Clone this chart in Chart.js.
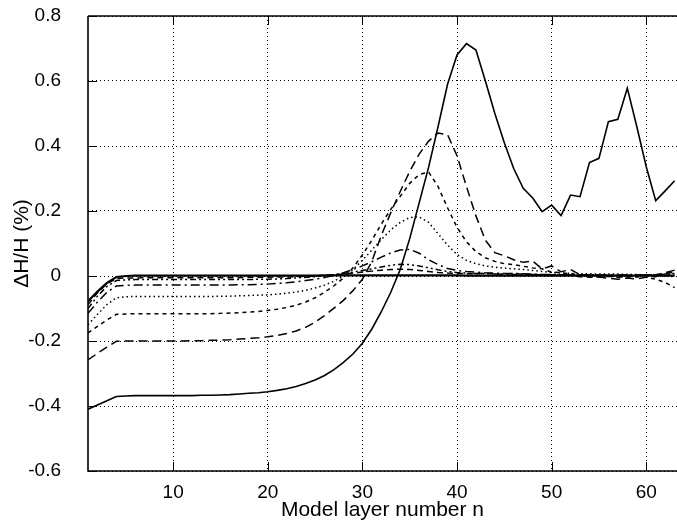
<!DOCTYPE html>
<html><head><meta charset="utf-8">
<script src="https://cdn.jsdelivr.net/npm/chart.js@4.4.1/dist/chart.umd.min.js"></script>
<style>html,body{margin:0;padding:0;background:#fff;overflow:hidden}canvas{display:block}</style>
</head><body>
<canvas id="c" width="677" height="528"></canvas>
<script>
const layers = [1,2,3,4,5,6,7,8,9,10,11,12,13,14,15,16,17,18,19,20,21,22,23,24,25,26,27,28,29,30,31,32,33,34,35,36,37,38,39,40,41,42,43,44,45,46,47,48,49,50,51,52,53,54,55,56,57,58,59,60,61,62,63];

const solidMain = [-0.410,-0.397,-0.384,-0.371,-0.369,-0.368,-0.368,-0.368,-0.368,-0.368,
 -0.368,-0.368,-0.367,-0.367,-0.366,-0.365,-0.363,-0.361,-0.359,-0.356,
 -0.352,-0.347,-0.340,-0.331,-0.320,-0.306,-0.288,-0.266,-0.240,-0.207,
 -0.163,-0.110,-0.050,0.020,0.115,0.225,0.335,0.460,0.590,0.680,
 0.715,0.695,0.600,0.500,0.410,0.330,0.270,0.240,0.198,0.218,
 0.186,0.249,0.244,0.349,0.362,0.475,0.482,0.578,0.460,0.336,
 0.232,0.262,0.293];

const longDash = [-0.258,-0.238,-0.219,-0.201,-0.200,-0.200,-0.200,-0.200,-0.200,-0.200,
 -0.200,-0.199,-0.199,-0.198,-0.197,-0.196,-0.194,-0.192,-0.190,-0.187,
 -0.183,-0.177,-0.169,-0.158,-0.142,-0.122,-0.099,-0.075,-0.045,-0.010,
 0.045,0.125,0.195,0.260,0.322,0.375,0.415,0.440,0.435,0.370,
 0.275,0.185,0.110,0.072,0.062,0.050,0.042,0.046,0.022,0.031,
 0.013,0.020,0.004,0.000,-0.003,-0.007,-0.010,-0.006,-0.009,-0.004,
 -0.002,0.010,0.018];

const shortDash = [-0.175,-0.155,-0.135,-0.118,-0.117,-0.116,-0.116,-0.116,-0.116,-0.116,
 -0.116,-0.116,-0.116,-0.116,-0.115,-0.114,-0.113,-0.111,-0.109,-0.106,
 -0.102,-0.097,-0.090,-0.080,-0.067,-0.050,-0.030,-0.006,0.025,0.065,
 0.110,0.160,0.205,0.245,0.285,0.312,0.320,0.275,0.210,0.150,
 0.105,0.075,0.056,0.045,0.038,0.035,0.030,0.025,0.022,0.012,
 0.010,0.006,0.004,0.002,0.002,0.001,0.000,-0.002,-0.003,-0.004,
 -0.010,-0.020,-0.036];

const dotted = [-0.150,-0.118,-0.088,-0.067,-0.064,-0.063,-0.063,-0.063,-0.063,-0.063,
 -0.063,-0.063,-0.063,-0.063,-0.062,-0.062,-0.061,-0.060,-0.059,-0.058,
 -0.056,-0.053,-0.049,-0.044,-0.037,-0.028,-0.016,0.000,0.020,0.048,
 0.080,0.112,0.142,0.165,0.180,0.182,0.165,0.130,0.095,0.066,
 0.048,0.038,0.031,0.027,0.024,0.022,0.020,0.017,0.014,0.011,
 0.009,0.008,0.007,0.007,0.006,0.006,0.006,0.005,0.005,0.003,
 0.002,0.000,-0.002];

const dashDot = [-0.115,-0.080,-0.050,-0.031,-0.029,-0.028,-0.028,-0.028,-0.028,-0.028,
 -0.028,-0.028,-0.028,-0.028,-0.028,-0.028,-0.027,-0.027,-0.026,-0.025,
 -0.023,-0.021,-0.018,-0.014,-0.010,-0.005,0.002,0.010,0.020,0.031,
 0.044,0.058,0.071,0.080,0.082,0.070,0.050,0.035,0.023,0.017,
 0.014,0.012,0.010,0.009,0.008,0.008,0.007,0.006,0.005,0.005,
 0.004,0.004,0.004,0.004,0.003,0.003,0.003,0.003,0.003,0.003,
 0.003,0.004,0.006];

const dashDotDot = [-0.100,-0.062,-0.032,-0.014,-0.012,-0.011,-0.011,-0.011,-0.011,-0.011,
 -0.011,-0.011,-0.011,-0.011,-0.011,-0.011,-0.011,-0.011,-0.010,-0.010,
 -0.009,-0.008,-0.006,-0.004,-0.002,0.001,0.004,0.008,0.012,0.017,
 0.022,0.028,0.033,0.036,0.035,0.031,0.025,0.019,0.014,0.011,
 0.009,0.008,0.007,0.006,0.006,0.005,0.005,0.005,0.004,0.004,
 0.004,0.003,0.003,0.003,0.003,0.002,0.002,0.002,0.002,0.003,
 0.004,0.006,0.008];

const medDash = [-0.088,-0.052,-0.024,-0.008,-0.006,-0.006,-0.005,-0.005,-0.005,-0.005,
 -0.005,-0.005,-0.005,-0.005,-0.005,-0.005,-0.005,-0.004,-0.004,-0.004,
 -0.003,-0.003,-0.002,-0.001,0.000,0.002,0.004,0.006,0.009,0.012,
 0.015,0.018,0.020,0.021,0.020,0.017,0.014,0.011,0.009,0.008,
 0.007,0.007,0.009,0.006,0.005,0.008,0.005,0.004,0.004,0.003,
 0.003,0.002,-0.002,-0.004,-0.003,-0.001,-0.004,-0.002,0.001,0.002,
 0.004,0.008,0.012];

const thickZero = [-0.078,-0.048,-0.021,-0.003,0.000,0.001,0.001,0.001,0.001,0.001,
 0.001,0.001,0.001,0.001,0.001,0.001,0.001,0.001,0.001,0.001,
 0.001,0.001,0.001,0.001,0.001,0.002,0.002,0.002,0.002,0.002,
 0.002,0.002,0.002,0.002,0.002,0.002,0.002,0.002,0.002,0.002,
 0.001,0.001,0.001,0.001,0.001,0.001,0.001,0.001,0.001,0.001,
 0.001,0.001,0.001,0.001,0.001,0.001,0.001,0.001,0.001,0.001,
 0.001,0.001,0.001];

const xTicks = [10,20,30,40,50,60];
const yTicks = [-0.6,-0.4,-0.2,0,0.2,0.4,0.6,0.8];
const xTitle = 'Model layer number n';
const yTitle = 'ΔH/H (%)';

function pts(vals){ return layers.map((n,i)=>({x:n,y:vals[i]})); }
function ds(vals, dash, w){
  return {data: pts(vals), borderColor:'#000', borderWidth: w, borderDash: dash,
    pointRadius:0, fill:false, tension:0, borderCapStyle:'butt', borderJoinStyle:'miter'};
}

const FONT = "'Liberation Sans', Arial, sans-serif";

const frame = {
  id:'frame',
  afterDatasetsDraw(chart){
    const {ctx, chartArea:a, scales:{x,y}} = chart;
    ctx.save();
    ctx.strokeStyle='#000'; ctx.setLineDash([]);
    ctx.lineWidth=1;
    ctx.beginPath();
    xTicks.forEach(v=>{const px=Math.round(x.getPixelForValue(v))+0.5; ctx.moveTo(px,a.bottom); ctx.lineTo(px,a.bottom-9); ctx.moveTo(px,a.top); ctx.lineTo(px,a.top+9);});
    yTicks.forEach(v=>{const py=Math.round(y.getPixelForValue(v))+0.5; ctx.moveTo(a.left,py); ctx.lineTo(a.left+9,py);});
    ctx.stroke();
    ctx.lineWidth=1.6;
    ctx.beginPath();
    ctx.moveTo(a.left,a.top); ctx.lineTo(a.left,a.bottom); ctx.lineTo(a.right,a.bottom);
    ctx.moveTo(a.left,a.top); ctx.lineTo(a.right,a.top);
    ctx.stroke();
    ctx.restore();
  }
};

new Chart(document.getElementById('c'), {
  type:'line',
  data:{ datasets:[
    ds(thickZero, [], 2.2),
    ds(medDash, [6,4], 1.5),
    ds(dashDotDot, [6,3,2,3,2,3], 1.5),
    ds(dashDot, [9,4,2,4], 1.5),
    ds(dotted, [1.5,3], 1.5),
    ds(shortDash, [4,4], 1.5),
    ds(longDash, [9,5], 1.5),
    ds(solidMain, [], 1.6)
  ]},
  options:{
    responsive:false, animation:false, devicePixelRatio:1,
    layout:{padding:{top:16,left:0,right:0,bottom:0}},
    plugins:{legend:{display:false}, tooltip:{enabled:false}},
    scales:{
      x:{type:'linear', min:1, max:63.25,
        afterBuildTicks(s){ s.ticks = xTicks.map(v=>({value:v})); },
        afterFit(s){ s.height = 57; s.paddingLeft = 0; s.paddingRight = 0; s.paddingTop = 0; s.paddingBottom = 0; },
        grid:{color:'#000', lineWidth:1, drawTicks:false},
        border:{display:false, dash:[1,3]},
        ticks:{color:'#000', font:{family:FONT,size:19}, padding:10, maxRotation:0,
          callback:(v)=>String(v)},
        title:{display:true, text:xTitle, color:'#000', font:{family:FONT,size:21}, padding:{top:0,bottom:5}}
      },
      y:{type:'linear', min:-0.6, max:0.8,
        afterBuildTicks(s){ s.ticks = yTicks.map(v=>({value:v})); },
        afterFit(s){ s.width = 88; s.paddingTop = 0; s.paddingBottom = 0; s.paddingLeft = 0; s.paddingRight = 0; },
        grid:{color:'#000', lineWidth:1, drawTicks:false},
        border:{display:false, dash:[1,3]},
        ticks:{color:'#000', font:{family:FONT,size:19}, padding:27,
          callback:(v)=> (Math.abs(v)<1e-9 ? '0' : Number(v).toFixed(1))},
        title:{display:true, text:yTitle, color:'#000', font:{family:FONT,size:21}, padding:{top:10,bottom:0}}
      }
    }
  },
  plugins:[frame]
});
</script>
</body></html>
